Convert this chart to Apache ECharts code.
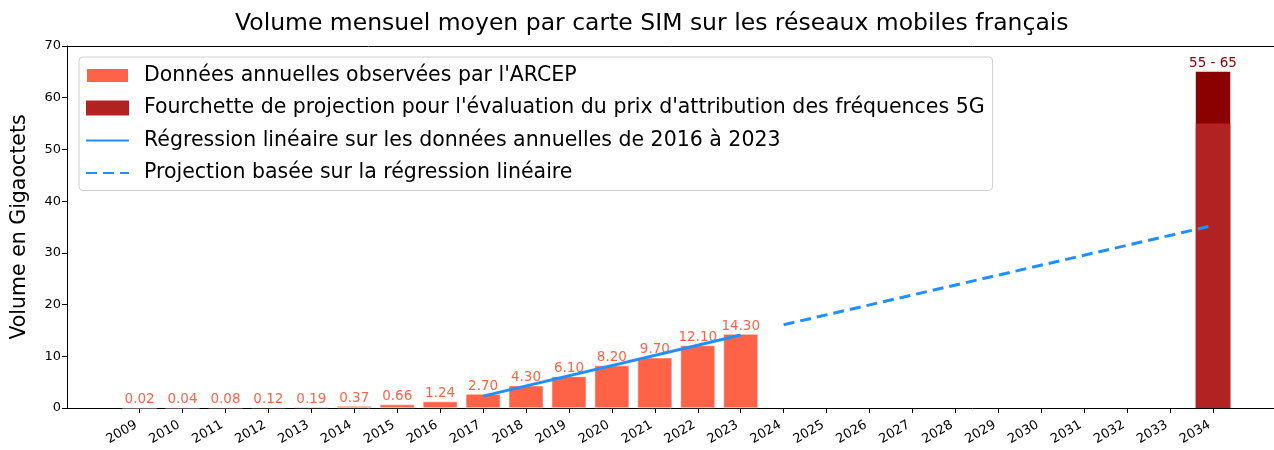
<!DOCTYPE html>
<html>
<head>
<meta charset="utf-8">
<script src="https://cdn.jsdelivr.net/npm/echarts@6/dist/echarts.min.js"></script>
<style>
html, body { margin: 0; padding: 0; background: #fff; }
#chart { width: 1274px; height: 450px; }
</style>
</head>
<body>
<div id="chart"></div>
<script>
// années sur l'axe horizontal
var years = ["2009", "2010", "2011", "2012", "2013", "2014", "2015", "2016", "2017",
    "2018", "2019", "2020", "2021", "2022", "2023", "2024", "2025", "2026", "2027",
    "2028", "2029", "2030", "2031", "2032", "2033", "2034"];
// données ARCEP 2009-2023 (Go / mois / carte SIM)
var observed = [0.02, 0.04, 0.08, 0.12, 0.19, 0.37, 0.66, 1.24, 2.70, 4.30, 6.10, 8.20, 9.70, 12.10, 14.30];
// fourchette 5G pour 2034
var rangeLow = 55;
var rangeHigh = 65;
// régression (extrémités)
var regYears = ["2017", "2023"];
var regValues = [2.3, 14.1];
var projYears = ["2024", "2034"];
var projValues = [16.1, 35.3];
var yTicks = [0, 10, 20, 30, 40, 50, 60, 70];

var idx = function (y) { return years.indexOf(y); };
var font = "DejaVu Sans";
var xMin = -1.69, xMax = 26.42;   // le cadre de droite sort de l'image

var names = [
    "Données annuelles observées par l'ARCEP",
    "Fourchette de projection pour l'évaluation du prix d'attribution des fréquences 5G",
    "Régression linéaire sur les données annuelles de 2016 à 2023",
    "Projection basée sur la régression linéaire"
];

var option = {
    animation: false,
    backgroundColor: "#fff",
    textStyle: { fontFamily: font },
    title: {
        text: "Volume mensuel moyen par carte SIM sur les réseaux mobiles français",
        left: 230,
        top: 7,
        textStyle: { fontFamily: font, fontSize: 23.5, fontWeight: "normal", color: "#000" }
    },
    legend: {
        data: [
            { name: names[0], icon: "rect" },
            { name: names[1], icon: "rect" },
            { name: names[2], itemStyle: { opacity: 0 } },
            { name: names[3], itemStyle: { opacity: 0 } }
        ],
        orient: "vertical",
        left: 79,
        top: 57,
        padding: [8, 8, 7, 6],
        itemWidth: 43,
        itemHeight: 15,
        itemGap: 11.5,
        borderColor: "#d0d0d0",
        borderWidth: 1,
        borderRadius: 4,
        backgroundColor: "rgba(255,255,255,0.8)",
        textStyle: { fontFamily: font, fontSize: 20.5, lineHeight: 20, color: "#000", padding: [0, 0, 0, 10] }
    },
    grid: {
        left: 67,
        top: 46,
        right: 0,
        height: 362
    },
    xAxis: [
        {
            type: "value",
            min: xMin,
            max: xMax,
            splitLine: { show: false },
            axisLine: { onZero: false, lineStyle: { color: "#000" } },
            axisTick: {
                show: true,
                length: 5,
                lineStyle: { color: "#000" },
                customValues: years.map(function (y, i) { return i; })
            },
            axisLabel: {
                customValues: years.map(function (y, i) { return i; }),
                formatter: function (v) { return years[Math.round(v)]; },
                rotate: 30,
                margin: 14,
                padding: [0, 4, 0, 0],
                color: "#000",
                fontSize: 13,
                fontFamily: font
            }
        },
        {
            // cadre du haut
            type: "value",
            position: "top",
            min: xMin,
            max: xMax,
            splitLine: { show: false },
            axisLine: { onZero: false, lineStyle: { color: "#000" } },
            axisTick: { show: false },
            axisLabel: { show: false }
        }
    ],
    yAxis: {
        type: "value",
        min: 0,
        max: 70,
        interval: 10,
        name: "Volume en Gigaoctets",
        nameLocation: "middle",
        nameGap: 37,
        nameTextStyle: { fontFamily: font, fontSize: 20.5, color: "#000" },
        splitLine: { show: false },
        axisLine: { show: true, onZero: false, lineStyle: { color: "#000" } },
        axisTick: { show: true, length: 5, lineStyle: { color: "#000" } },
        axisLabel: {
            color: "#000",
            fontSize: 13,
            fontFamily: font,
            margin: 6,
            customValues: yTicks
        }
    },
    series: [
        {
            name: names[0],
            type: "bar",
            stack: "obs",
            barWidth: 34.5,
            barGap: "-100%",
            itemStyle: { color: "#ff6347", borderColor: "#fff", borderWidth: 0.5 },
            label: {
                show: true,
                position: "top",
                distance: 1,
                color: "#ff6347",
                fontSize: 13.5,
                fontFamily: font,
                formatter: function (p) { return p.value[1].toFixed(2); }
            },
            data: observed.map(function (v, i) { return [i, v]; })
        },
        {
            // partie haute de la fourchette, dessinée derrière la partie basse
            name: "haut",
            type: "bar",
            barWidth: 34.5,
            barGap: "-100%",
            itemStyle: { color: "#8b0000" },
            label: {
                show: true,
                position: "top",
                distance: 1,
                color: "#8b0000",
                fontSize: 13.5,
                fontFamily: font,
                formatter: rangeLow + " - " + rangeHigh
            },
            data: [[idx("2034"), rangeHigh]]
        },
        {
            name: names[1],
            type: "bar",
            barWidth: 34.5,
            barGap: "-100%",
            itemStyle: { color: "#b22222" },
            data: [[idx("2034"), rangeLow]]
        },
        {
            name: names[2],
            type: "line",
            symbol: "none",
            color: "#1e90ff",
            lineStyle: { color: "#1e90ff", width: 3 },
            data: regYears.map(function (y, i) { return [idx(y), regValues[i]]; })
        },
        {
            name: names[3],
            type: "line",
            symbol: "none",
            color: "#1e90ff",
            lineStyle: { color: "#1e90ff", width: 3, type: [11, 6] },
            data: projYears.map(function (y, i) { return [idx(y), projValues[i]]; })
        }
    ]
};

var chart = echarts.init(document.getElementById("chart"));
chart.setOption(option);
</script>
</body>
</html>
